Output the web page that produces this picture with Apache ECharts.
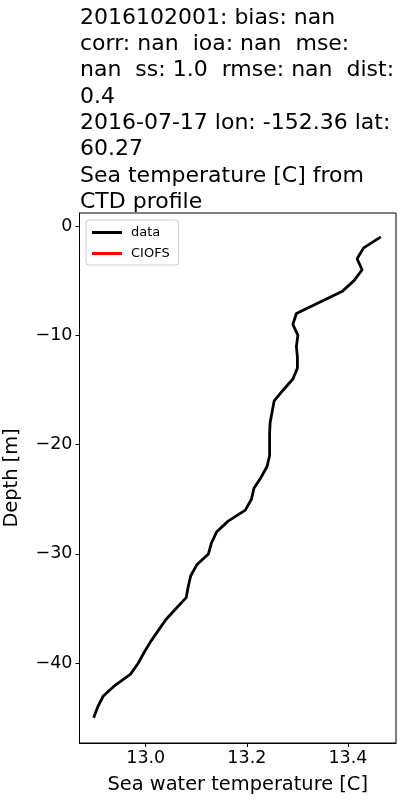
<!DOCTYPE html>
<html>
<head>
<meta charset="utf-8">
<script src="https://cdn.jsdelivr.net/npm/echarts@6/dist/echarts.min.js"></script>
<style>html,body{margin:0;padding:0;background:#fff}#c{width:400px;height:800px}</style>
</head>
<body>
<div id="c"></div>
<script>
var titleLines = [
  "2016102001: bias: nan",
  "corr: nan  ioa: nan  mse:",
  "nan  ss: 1.0  rmse: nan  dist:",
  "0.4",
  "2016-07-17 lon: -152.36 lat:",
  "60.27",
  "Sea temperature [C] from",
  "CTD profile"
];
var depths = [-1,-2,-3,-4,-5,-6,-7,-8,-9,-10,-11,-12,-13,-14,-15,-16,-17,-18,-19,-20,-21,-22,-23,-24,-25,-26,-27,-28,-29,-30,-31,-32,-33,-34,-35,-36,-37,-38,-39,-40,-41,-42,-43,-44,-45];
var dataTemp = [13.465,13.431,13.418,13.428,13.412,13.388,13.343,13.298,13.291,13.301,13.298,13.300,13.300,13.291,13.272,13.254,13.250,13.246,13.245,13.245,13.245,13.240,13.228,13.214,13.209,13.197,13.163,13.140,13.130,13.124,13.101,13.089,13.084,13.080,13.060,13.040,13.025,13.010,12.997,12.985,12.970,12.940,12.916,12.905,12.897];
var ciofsTemp = [];
var xTicks = [13.0, 13.2, 13.4];
var yTicks = [0, -10, -20, -30, -40];

var chart = echarts.init(document.getElementById('c'));
var font = 'DejaVu Sans';
function minus(v){ return String(v).replace('-', '\u2212'); }
chart.setOption({
  animation: false,
  backgroundColor: '#fff',
  title: {
    text: titleLines.join('\n'),
    left: 75, top: 0,
    textStyle: {fontFamily: font, fontSize: 22, fontWeight: 'normal', color: '#000', lineHeight: 26.3}
  },
  legend: {
    orient: 'vertical', left: 86, top: 220,
    itemWidth: 30, itemHeight: 10, itemGap: 8,
    padding: [6, 9, 5, 6],
    borderColor: '#ccc', borderWidth: 1, borderRadius: 3,
    textStyle: {fontFamily: font, fontSize: 13, color: '#000', padding: [0, 0, 0, 4]},
    data: [{name: 'data', icon: 'path://M0,3.5L30,3.5L30,6.5L0,6.5Z'}, {name: 'CIOFS', icon: 'path://M0,3.5L30,3.5L30,6.5L0,6.5Z'}]
  },
  grid: {left: 79.5, right: 4, top: 213, bottom: 57, show: true, borderColor: '#000', borderWidth: 1, outerBoundsMode: 'none', containLabel: false},
  xAxis: {
    type: 'value', min: 12.869, max: 13.495,
    name: 'Sea water temperature [C]', nameLocation: 'middle', nameGap: 32.5,
    nameTextStyle: {fontFamily: font, fontSize: 19.4, color: '#000'},
    axisLine: {onZero: false, lineStyle: {color: '#000'}},
    axisTick: {show: true, length: 4, lineStyle: {color: '#000'}, customValues: xTicks},
    axisLabel: {fontFamily: font, fontSize: 17.5, color: '#000', margin: 6, customValues: xTicks, formatter: function(v){return v.toFixed(1);}},
    splitLine: {show: false}
  },
  yAxis: {
    type: 'value', min: -47.3, max: 1.19,
    name: 'Depth [m]', nameLocation: 'middle', nameGap: 58.5,
    nameTextStyle: {fontFamily: font, fontSize: 19.4, color: '#000'},
    axisLine: {show: true, onZero: false, lineStyle: {color: '#000'}},
    axisTick: {show: true, length: 4, lineStyle: {color: '#000'}, customValues: yTicks},
    axisLabel: {fontFamily: font, fontSize: 17.5, color: '#000', margin: 7, customValues: yTicks, formatter: function(v){return minus(v);}},
    splitLine: {show: false}
  },
  series: [
    {name: 'data', type: 'line', symbol: 'none', color: '#000', lineStyle: {width: 2.8, color: '#000'},
     data: depths.map(function(d, i){ return [dataTemp[i], d]; })},
    {name: 'CIOFS', type: 'line', symbol: 'none', color: '#f00', lineStyle: {width: 2.8, color: '#f00'},
     data: ciofsTemp}
  ]
});
</script>
</body>
</html>
